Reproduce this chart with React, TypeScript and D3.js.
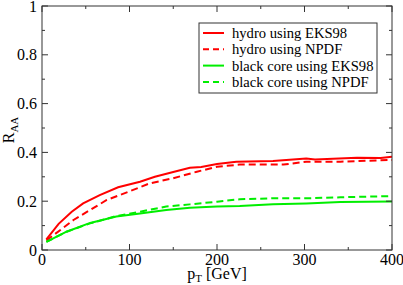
import React from "react";
import * as d3 from "d3";

const hydroEKS: [number, number][] = [
  [5, 0.044], [19, 0.107], [34, 0.157], [47, 0.191], [66, 0.225], [87, 0.257],
  [112, 0.28], [129, 0.3], [150, 0.32], [169, 0.337], [182, 0.34], [200, 0.352],
  [222, 0.362], [264, 0.365], [302, 0.375], [312, 0.371], [360, 0.378], [387, 0.377], [400, 0.382],
];
const hydroNPDF: [number, number][] = [
  [5, 0.039], [21, 0.082], [36, 0.123], [55, 0.164], [74, 0.205], [99, 0.239],
  [123, 0.273], [150, 0.294], [177, 0.321], [200, 0.341], [226, 0.35], [276, 0.35],
  [302, 0.362], [341, 0.362], [400, 0.369],
];
const blackEKS: [number, number][] = [
  [5, 0.033], [28, 0.075], [55, 0.111], [85, 0.137], [112, 0.15], [142, 0.164],
  [169, 0.173], [200, 0.178], [226, 0.18], [264, 0.187], [302, 0.191], [341, 0.197], [400, 0.199],
];
const blackNPDF: [number, number][] = [
  [5, 0.033], [28, 0.075], [55, 0.109], [85, 0.139], [112, 0.157], [142, 0.178],
  [169, 0.187], [200, 0.198], [226, 0.208], [264, 0.212], [302, 0.212], [341, 0.216], [400, 0.221],
];
const xTicks = [0, 100, 200, 300, 400];
const yTicks = [0, 0.2, 0.4, 0.6, 0.8, 1];
const legendLabels = ["hydro using EKS98", "hydro using NPDF", "black core using EKS98", "black core using NPDF"];

const W = 403, H = 285;
const L = 42, R = 392, T = 6, B = 250;

export default function App() {
  const x = d3.scaleLinear().domain([0, 400]).range([L, R]);
  const y = d3.scaleLinear().domain([0, 1]).range([B, T]);
  const line = d3.line<[number, number]>().x(d => x(d[0])).y(d => y(d[1]));
  const series = [
    { data: hydroEKS, color: "#ff0000", dash: undefined },
    { data: hydroNPDF, color: "#ff0000", dash: "7,4" },
    { data: blackEKS, color: "#00ee00", dash: undefined },
    { data: blackNPDF, color: "#00ee00", dash: "7,4" },
  ];
  const xMinor = d3.range(0, 401, 50);
  const yMinor = d3.range(0, 1.001, 0.1);
  const axisColor = "#333";
  const font = "'Liberation Serif', 'Times New Roman', serif";
  return (
    <svg width={W} height={H} style={{ position: "absolute", left: 0, top: 0, background: "#fff" }} fontFamily={font}>
      <defs>
        <clipPath id="plot"><rect x={L} y={T} width={R - L} height={B - T} /></clipPath>
      </defs>
      <g clipPath="url(#plot)">
        {series.map((s, i) => (
          <path key={i} d={line(s.data) || ""} fill="none" stroke={s.color} strokeWidth={2} strokeDasharray={s.dash} />
        ))}
      </g>
      <rect x={L} y={T} width={R - L} height={B - T} fill="none" stroke={axisColor} strokeWidth={1} />
      {xMinor.map((v, i) => {
        const len = v % 100 === 0 ? 6 : 3;
        return (
          <g key={"xt" + i} stroke={axisColor}>
            <line x1={x(v)} x2={x(v)} y1={B} y2={B - len} />
            <line x1={x(v)} x2={x(v)} y1={T} y2={T + len} />
          </g>
        );
      })}
      {yMinor.map((v, i) => {
        const len = i % 2 === 0 ? 6 : 3;
        return (
          <g key={"yt" + i} stroke={axisColor}>
            <line x1={L} x2={L + len} y1={y(v)} y2={y(v)} />
            <line x1={R} x2={R - len} y1={y(v)} y2={y(v)} />
          </g>
        );
      })}
      {xTicks.map(v => (
        <text key={"xl" + v} x={x(v)} y={265} fontSize={16} textAnchor="middle" fill="#000">{v}</text>
      ))}
      {yTicks.map(v => (
        <text key={"yl" + v} x={37} y={y(v) + 5.5} fontSize={16} textAnchor="end" fill="#000">{v === 0 || v === 1 ? String(v) : v.toFixed(1)}</text>
      ))}
      <text x={217} y={278.5} fontSize={16} textAnchor="middle" fill="#000">
        p<tspan fontSize={11} dy={3.5}>T</tspan><tspan dy={-3.5}> [GeV]</tspan>
      </text>
      <text transform={`translate(14,130) rotate(-90)`} fontSize={16} textAnchor="middle" fill="#000">
        R<tspan fontSize={11} dy={4}>AA</tspan>
      </text>
      <rect x={199} y={23} width={178} height={70} fill="#fff" stroke={axisColor} strokeWidth={1} />
      {legendLabels.map((lab, i) => {
        const ly = 33 + i * 16.3;
        return (
          <g key={"lg" + i}>
            <line x1={203} x2={224} y1={ly} y2={ly} stroke={series[i].color} strokeWidth={2} strokeDasharray={series[i].dash ? "6,4" : undefined} />
            <text x={232} y={ly + 5} fontSize={14.6} fill="#000">{lab}</text>
          </g>
        );
      })}
    </svg>
  );
}
